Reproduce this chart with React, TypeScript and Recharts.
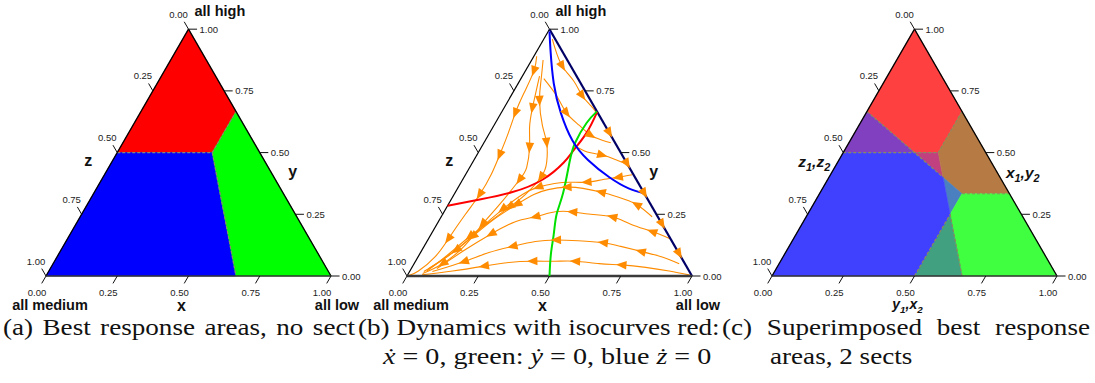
import { ComposedChart, XAxis, YAxis, Line, Area, Scatter } from 'recharts'

type TP = [number, number] // ternary point (x, y), z = 1 - x - y

const SQ = Math.sqrt(3) / 2
const S = 285 // px per unit side
const OX = 45 // px from chart left to the "all medium" corner
const OY = 276 // px from chart top to the bottom edge
const CH = 320

// shared ternary axis ticks
const ticks = [0, 0.25, 0.5, 0.75, 1]
const tickLabels = ['0.00', '0.25', '0.50', '0.75', '1.00']

// (a) best response areas, no sect
const aRed: TP[] = [[0, 1], [0, 0.5], [1 / 3, 0.5], [1 / 3, 2 / 3]]
const aBlue: TP[] = [[0, 0.5], [0, 0], [2 / 3, 0], [1 / 3, 0.5]]
const aGreen: TP[] = [[1 / 3, 2 / 3], [1 / 3, 0.5], [2 / 3, 0], [1, 0]]
const aBorders: TP[][] = [
  [[0, 0.5], [1 / 3, 0.5]],
  [[1 / 3, 0.5], [1 / 3, 2 / 3]],
  [[1 / 3, 0.5], [2 / 3, 0]],
]

// (b) isocurves
const isoRed: TP[] = [[0, 0.285], [0.1, 0.31], [0.2, 0.34], [0.28, 0.39], [0.32, 0.46], [0.33, 0.51], [0.34, 0.58], [0.335, 0.665]]
const isoGreen: TP[] = [[0.5, 0], [0.46, 0.09], [0.43, 0.17], [0.4, 0.25], [0.38, 0.335], [0.34, 0.46], [0.32, 0.54], [0.32, 0.62], [0.333, 0.667]]
const isoBlue: TP[] = [[0.005, 0.99], [0.046, 0.915], [0.125, 0.78], [0.21, 0.66], [0.305, 0.55], [0.4, 0.47], [0.51, 0.4], [0.6, 0.355], [0.665, 0.335]]

// (b) flow lines, listed in flow direction
const flowA1: TP[] = [[0.01, 0.89], [0.03, 0.83], [0.04, 0.74], [0.05, 0.66], [0.066, 0.578], [0.08, 0.49], [0.09, 0.41], [0.09, 0.33], [0.08, 0.25], [0.07, 0.15], [0.06, 0.08], [0.03, 0.02], [0.005, 0.002]]
const flowA2: TP[] = [[0.06, 0.81], [0.1, 0.68], [0.13, 0.6], [0.17, 0.52], [0.2, 0.44], [0.2, 0.39], [0.18, 0.29], [0.16, 0.21], [0.14, 0.12], [0.1, 0.05], [0.05, 0.01]]
const flowA3: TP[] = [[0.04, 0.875], [0.075, 0.79], [0.11, 0.71], [0.17, 0.61], [0.22, 0.54], [0.26, 0.46], [0.27, 0.4], [0.25, 0.33], [0.22, 0.28], [0.18, 0.22], [0.14, 0.16], [0.1, 0.085], [0.06, 0.02]]
const flowB1: TP[] = [[0.03, 0.96], [0.06, 0.92], [0.12, 0.85], [0.19, 0.79], [0.25, 0.73], [0.3, 0.69], [0.33, 0.665]]
const flowB2: TP[] = [[0.08, 0.8], [0.16, 0.73], [0.23, 0.66], [0.3, 0.61], [0.36, 0.57], [0.41, 0.55], [0.445, 0.54]]
const flowC1: TP[] = [[0.34, 0.52], [0.39, 0.5], [0.44, 0.49], [0.5, 0.47], [0.54, 0.455]]
const flowR1: TP[] = [[0.99, 0.004], [0.91, 0.02], [0.82, 0.035], [0.73, 0.045], [0.65, 0.05], [0.56, 0.06], [0.49, 0.06], [0.41, 0.06], [0.33, 0.055], [0.25, 0.04], [0.15, 0.02], [0.05, 0.005]]
const flowR2: TP[] = [[0.93, 0.05], [0.86, 0.076], [0.77, 0.1], [0.69, 0.12], [0.62, 0.135], [0.53, 0.143], [0.45, 0.146], [0.38, 0.14], [0.31, 0.12], [0.24, 0.095], [0.17, 0.058], [0.08, 0.018]]
const flowR3: TP[] = [[0.85, 0.15], [0.77, 0.18], [0.68, 0.21], [0.6, 0.24], [0.52, 0.25], [0.45, 0.26], [0.39, 0.26], [0.33, 0.24], [0.27, 0.22], [0.21, 0.17], [0.15, 0.105], [0.09, 0.03]]
const flowR4: TP[] = [[0.74, 0.24], [0.66, 0.29], [0.58, 0.32], [0.51, 0.34], [0.44, 0.355], [0.38, 0.36], [0.32, 0.35], [0.28, 0.33], [0.24, 0.29], [0.19, 0.23], [0.15, 0.16], [0.1, 0.076], [0.05, 0.018]]
const flowR5: TP[] = [[0.585, 0.41], [0.54, 0.4], [0.49, 0.39], [0.44, 0.38], [0.38, 0.38], [0.33, 0.375], [0.28, 0.36], [0.24, 0.33], [0.2, 0.27], [0.16, 0.19], [0.12, 0.105], [0.06, 0.03]]
const flows = [flowA1, flowA2, flowA3, flowB1, flowB2, flowC1, flowR1, flowR2, flowR3, flowR4, flowR5]
const flowArrows = [[1, 3, 5, 7, 9], [1, 3, 5, 7, 9], [2, 4, 6, 8, 10], [2, 4], [2, 4], [2], [3, 5, 7, 9], [2, 4, 6, 8, 10], [1, 3, 5, 7, 9], [1, 3, 5, 8, 10], [1, 3, 6, 8, 10]]
const edgeArrowY = [0.58, 0.455, 0.335, 0.21, 0.09] // arrows on the x-y edge

// (c) superimposed best response areas, 2 sects
const cRed: TP[] = [[0, 1], [0, 2 / 3], [0.25, 0.5], [1 / 3, 0.5], [1 / 3, 2 / 3]]
const cPurple: TP[] = [[0, 2 / 3], [0, 0.5], [0.25, 0.5]]
const cPink: TP[] = [[0.25, 0.5], [1 / 3, 0.5], [0.4, 0.4]]
const cBrown: TP[] = [[1 / 3, 2 / 3], [1 / 3, 0.5], [0.4, 0.4], [0.5, 1 / 3], [2 / 3, 1 / 3]]
const cSteel: TP[] = [[0.4, 0.4], [0.5, 0.25], [0.5, 1 / 3]]
const cGreen: TP[] = [[0.5, 1 / 3], [0.5, 0.25], [2 / 3, 0], [1, 0], [2 / 3, 1 / 3]]
const cTeal: TP[] = [[0.5, 0.25], [0.5, 0], [2 / 3, 0]]
const cBlue: TP[] = [[0, 0.5], [0, 0], [0.5, 0], [0.5, 0.25], [0.4, 0.4], [0.25, 0.5]]
const cBorders: TP[][] = [
  [[0, 2 / 3], [0.4, 0.4]],
  [[0, 0.5], [1 / 3, 0.5]],
  [[0.5, 1 / 3], [2 / 3, 1 / 3]],
  [[0.5, 0], [0.5, 0.25]],
  [[0.5, 0.25], [2 / 3, 0]],
  [[1 / 3, 2 / 3], [1 / 3, 0.5]],
]

const toXY = (p: TP) => ({ X: p[0] + p[1] / 2, Y: p[1] * SQ })
const rows = (pts: TP[]) => pts.map(toXY)
const segRows = (segs: TP[][]) =>
  segs.flatMap((s) => [...s.map(toXY), { X: toXY(s[s.length - 1]).X, Y: null }])

// polygon -> lower/upper range rows for a range Area
function rangeRows(poly: TP[]) {
  const pts = poly.map(toXY)
  const xs = Array.from(new Set(pts.map((p) => +p.X.toFixed(6)))).sort((a, b) => a - b)
  return xs.map((X) => {
    const ys: number[] = []
    pts.forEach((a, i) => {
      const b = pts[(i + 1) % pts.length]
      if (X < Math.min(a.X, b.X) - 1e-6 || X > Math.max(a.X, b.X) + 1e-6) return
      if (Math.abs(b.X - a.X) < 1e-6) ys.push(a.Y, b.Y)
      else ys.push(a.Y + ((b.Y - a.Y) * (X - a.X)) / (b.X - a.X))
    })
    return { X, r: [Math.min(...ys), Math.max(...ys)] }
  })
}

function tickRows() {
  const L = 0.03
  const out: { X: number; Y: number | null }[] = []
  ticks.forEach((t) => {
    const l = toXY([0, 1 - t])
    out.push(l, { X: l.X - L * 0.5, Y: l.Y + L * SQ }, { X: l.X, Y: null })
    const r = toXY([1 - t, t])
    out.push(r, { X: r.X + L, Y: r.Y }, { X: r.X, Y: null })
    const b = toXY([t, 0])
    out.push(b, { X: b.X - L * 0.5, Y: b.Y - L * SQ }, { X: b.X, Y: null })
  })
  return out
}

function arrowRows(flow: TP[], idx: number[]) {
  return idx.map((i) => {
    const a = toXY(flow[Math.max(i - 1, 0)])
    const b = toXY(flow[Math.min(i + 1, flow.length - 1)])
    return { ...toXY(flow[i]), ang: Math.atan2(b.Y - a.Y, b.X - a.X) }
  })
}

const SANS = "'Liberation Sans', Arial, Helvetica, sans-serif"
const tickStyle = { fontFamily: SANS, fontSize: 9.5, fill: '#222' }
const bigStyle = { fontFamily: SANS, fontSize: 14.5, fontWeight: 700, fill: '#111' }
const axisStyle = { fontFamily: SANS, fontSize: 16, fontWeight: 700, fill: '#111' }
const subStyle = { fontFamily: SANS, fontSize: 15.5, fontWeight: 700, fontStyle: 'italic', fill: '#111' }
const subStyleSmall = { ...subStyle, fontSize: 14 }

const withSubs = (s: string) =>
  s.split('').map((ch, i) =>
    /\d/.test(ch) ? (
      <tspan key={i} baselineShift="sub" fontSize="70%">{ch}</tspan>
    ) : (
      <tspan key={i}>{ch}</tspan>
    ),
  )

const textShape = (dx: number, dy: number, anchor: string, style: any, subs = false) => (p: any) => (
  <text x={p.cx + dx} y={p.cy + dy} textAnchor={anchor} dominantBaseline="central" style={style}>
    {subs ? withSubs(p.payload.text) : p.payload.text}
  </text>
)

const arrowShape = (p: any) => (
  <polygon
    points="5.5,0 -5,4.3 -5,-4.3"
    fill="#FF8C00"
    transform={`translate(${p.cx},${p.cy}) rotate(${(-p.payload.ang * 180) / Math.PI})`}
  />
)

const txt = (key: string, data: any[], shape: any) => (
  <Scatter key={key} data={data} dataKey="Y" legendType="none" isAnimationActive={false} shape={shape} />
)

function labelItems(key: string, corners: boolean, titles: string[], subs: boolean) {
  const left = ticks.map((t, i) => ({ ...toXY([0, 1 - t]), text: tickLabels[i] }))
  const right = ticks.map((t, i) => ({ ...toXY([1 - t, t]), text: tickLabels[i] }))
  const bottom = ticks.map((t, i) => ({ ...toXY([t, 0]), text: tickLabels[i] }))
  const ts = subs ? subStyle : axisStyle
  const items = [
    txt(key + 'tl', left, textShape(-10, -15, 'middle', tickStyle)),
    txt(key + 'tr', right, textShape(11, 0, 'start', tickStyle)),
    txt(key + 'tb', bottom, textShape(-9, 16, 'middle', tickStyle)),
    txt(key + 'az', [{ ...toXY([0, 0.5]), text: titles[0] }], textShape(-29, 8, 'middle', ts, subs)),
    txt(key + 'ay', [{ ...toXY([0.5, 0.5]), text: titles[1] }], textShape(subs ? 37 : 33, 19, 'middle', ts, subs)),
    txt(
      key + 'ax',
      [{ ...toXY([0.5, 0]), text: titles[2] }],
      textShape(-7, subs ? 27.5 : 29, 'middle', subs ? subStyleSmall : ts, subs),
    ),
  ]
  if (corners) {
    items.push(
      txt(key + 'ch', [{ ...toXY([0, 1]), text: 'all high' }], textShape(6, -18, 'start', bigStyle)),
      txt(key + 'cm', [{ ...toXY([0, 0]), text: 'all medium' }], textShape(4, 29, 'middle', bigStyle)),
      txt(key + 'cl', [{ ...toXY([1, 0]), text: 'all low' }], textShape(6, 29, 'middle', bigStyle)),
    )
  }
  return items
}

const plainLine = (key: string, data: any[], stroke: string, width: number, type: any = 'linear', dash?: string) => (
  <Line
    key={key}
    data={data}
    dataKey="Y"
    type={type}
    stroke={stroke}
    strokeWidth={width}
    strokeDasharray={dash}
    dot={false}
    activeDot={false}
    legendType="none"
    isAnimationActive={false}
  />
)

function frameItems(key: string, colors: string[], widths: number[]) {
  const edges: TP[][] = [[[0, 0], [0, 1]], [[0, 1], [1, 0]], [[0, 0], [1, 0]]]
  return [
    ...edges.map((e, i) => plainLine(key + 'e' + i, rows(e), colors[i], widths[i])),
    plainLine(key + 'tk', tickRows(), '#111', 1),
  ]
}

function polyItem(key: string, poly: TP[], color: string) {
  return (
    <Area
      key={key}
      data={rangeRows(poly)}
      dataKey="r"
      type="linear"
      fill={color}
      fillOpacity={1}
      stroke={color}
      strokeWidth={0.6}
      dot={false}
      activeDot={false}
      legendType="none"
      isAnimationActive={false}
    />
  )
}

function Tern({ left, width, children }: { left: number; width: number; children: any }) {
  return (
    <div style={{ position: 'absolute', left, top: 0 }}>
      <ComposedChart width={width} height={CH} margin={{ top: 0, right: 0, bottom: 0, left: 0 }}>
        <XAxis type="number" dataKey="X" domain={[-OX / S, (width - OX) / S]} allowDataOverflow hide />
        <YAxis type="number" domain={[-(CH - OY) / S, OY / S]} allowDataOverflow hide />
        {children}
      </ComposedChart>
    </div>
  )
}

// captions: Times-like, slightly wide set
const SX = 1.13
const capStyle: any = {
  position: 'absolute',
  fontFamily: "'Liberation Serif', 'Times New Roman', serif",
  fontSize: 24,
  lineHeight: '24px',
  color: '#111',
  whiteSpace: 'nowrap',
  transform: `scaleX(${SX})`,
  transformOrigin: 'left top',
}
const justified: any = { ...capStyle, whiteSpace: 'normal', textAlign: 'justify', textAlignLast: 'justify' }

export default function App() {
  return (
    <div style={{ position: 'absolute', left: 0, top: 0, width: 1095, height: 383, overflow: 'hidden', background: '#fff' }}>
      <Tern left={1} width={361}>
        {[
          polyItem('ar', aRed, '#FF0000'),
          polyItem('ab', aBlue, '#0000FF'),
          polyItem('ag', aGreen, '#00FF00'),
          plainLine('abd', segRows(aBorders), '#8a8a6a', 1.2, 'linear', '3 2'),
          ...frameItems('a', ['#000', '#000', '#333'], [1.3, 1.3, 1.6]),
          ...labelItems('a', true, ['z', 'y', 'x'], false),
        ]}
      </Tern>

      <Tern left={362} width={365}>
        {[
          ...flows.map((f, i) => plainLine('f' + i, rows(f), '#FF8C00', 1.1, 'natural')),
          ...flows.map((f, i) => txt('fa' + i, arrowRows(f, flowArrows[i]), arrowShape)),
          txt(
            'ea',
            edgeArrowY.map((y) => ({ ...toXY([1 - y, y]), ang: Math.atan2(-SQ, 0.5) })),
            arrowShape,
          ),
          ...frameItems('b', ['#000', '#000066', '#3a3a3a'], [1.2, 2.2, 2.6]),
          plainLine('ir', rows(isoRed), '#FF0000', 2, 'natural'),
          plainLine('ig', rows(isoGreen), '#00E000', 2, 'natural'),
          plainLine('ib', rows(isoBlue), '#0000FF', 2, 'natural'),
          ...labelItems('b', true, ['z', 'y', 'x'], false),
        ]}
      </Tern>

      <Tern left={727} width={365}>
        {[
          polyItem('cr', cRed, '#FF4040'),
          polyItem('cp', cPurple, '#8040BF'),
          polyItem('cpk', cPink, '#C04080'),
          polyItem('cbr', cBrown, '#B67A44'),
          polyItem('cs', cSteel, '#4A80C0'),
          polyItem('cg', cGreen, '#40FF40'),
          polyItem('ct', cTeal, '#40A080'),
          polyItem('cb', cBlue, '#4040FF'),
          plainLine('cbd', segRows(cBorders), '#8a8a5a', 1.2, 'linear', '3 2'),
          ...frameItems('c', ['#000', '#000', '#333'], [1.3, 1.3, 1.6]),
          ...labelItems('c', false, ['z1,z2', 'x1,y2', 'y1,x2'], true),
        ]}
      </Tern>

      <div style={{ ...justified, left: 3, top: 315, width: 352 / SX }}>(a) Best response areas, no sect</div>
      <div style={{ ...capStyle, left: 358, top: 315 }}>(b) Dynamics with isocurves red:</div>
      <div style={{ ...capStyle, left: 383, top: 344, transform: 'scaleX(1.17)' }}>
        <i>ẋ</i> = 0, green: <i>ẏ</i> = 0, blue <i>ż</i> = 0
      </div>
      <div style={{ ...justified, left: 722, top: 315, width: 368 / SX }}>(c) Superimposed best response</div>
      <div style={{ ...capStyle, left: 770, top: 344 }}>areas, 2 sects</div>
    </div>
  )
}
